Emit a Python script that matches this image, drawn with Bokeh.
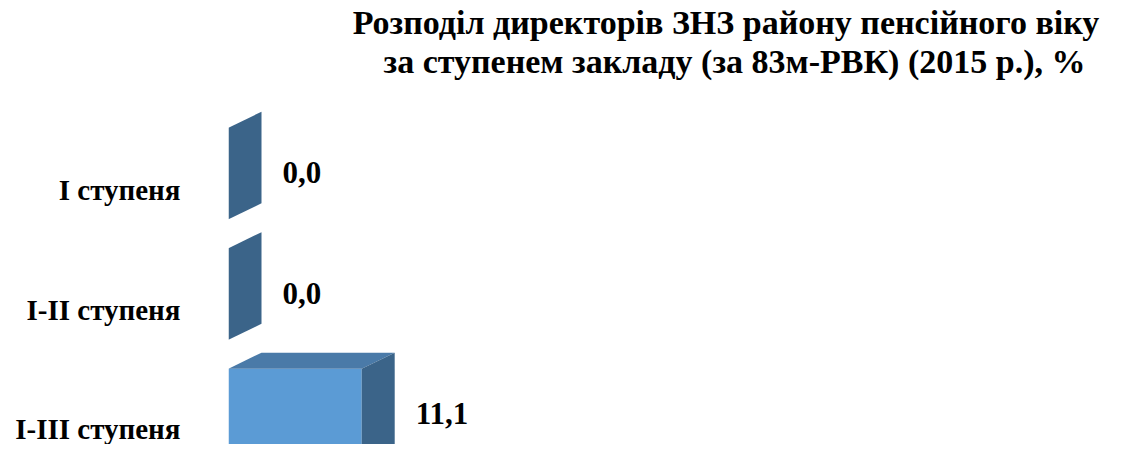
from bokeh.plotting import figure
from bokeh.models import Range1d, FixedTicker, Label, ColumnDataSource
from bokeh.core.properties import value
from bokeh.embed import file_html
from bokeh.resources import INLINE

# ---- data ----
categories = ["I ступеня", "I-II ступеня", "I-III ступеня"]
values = [0.0, 0.0, 11.1]
title_lines = ["Розподіл директорів ЗНЗ  району  пенсійного віку",
               "за ступенем закладу (за 83м-РВК) (2015 р.), %"]

# ---- style ----
FONT = "Liberation Serif"
FRONT = "#5b9bd5"
TOP = "#4a7aa8"
SIDE = "#3b6489"
HALF = 0.38      # half bar thickness (category units)
DX = 2.75        # 3-D depth along x (value units)
DY = 0.133       # 3-D depth along y (category units)

n = len(categories)
ypos = [n - i for i in range(n)]  # top category highest

p = figure(width=1126, height=444, output_backend="svg", toolbar_location=None,
           x_range=Range1d(0, 74.83), y_range=Range1d(0.751, 4.436),
           x_axis_location=None, min_border_left=228, min_border_right=0,
           min_border_top=0, min_border_bottom=0)
p.outline_line_color = None
p.grid.visible = False
p.background_fill_color = "white"
p.border_fill_color = "white"

# faces
front = ColumnDataSource(dict(
    left=[0] * n, right=values,
    bottom=[y - HALF for y in ypos], top=[y + HALF for y in ypos]))
p.quad(left="left", right="right", bottom="bottom", top="top", source=front,
       fill_color=FRONT, line_color=None)

top_xs = [[0, DX, v + DX, v] for v in values]
top_ys = [[y + HALF, y + HALF + DY, y + HALF + DY, y + HALF] for y in ypos]
p.patches(top_xs, top_ys, fill_color=TOP, line_color=None)

side_xs = [[v, v + DX, v + DX, v] for v in values]
side_ys = [[y - HALF, y - HALF + DY, y + HALF + DY, y + HALF] for y in ypos]
p.patches(side_xs, side_ys, fill_color=SIDE, line_color=None)

# value labels
lab = ColumnDataSource(dict(
    x=[v + DX for v in values], y=ypos,
    t=[f"{v:.1f}".replace(".", ",") for v in values]))
p.text(x="x", y="y", text="t", source=lab, x_offset=21, y_offset=-1,
       text_font=value(FONT), text_font_style="bold", text_font_size="31px",
       text_align="left", text_baseline="middle", text_color="black")

# category axis
ax = p.yaxis[0]
ax.ticker = FixedTicker(ticks=[y - DY for y in ypos])
ax.major_label_overrides = {y - DY: c for y, c in zip(ypos, categories)}
ax.axis_line_color = None
ax.major_tick_line_color = None
ax.minor_tick_line_color = None
ax.major_tick_out = 0
ax.major_tick_in = 0
ax.major_label_standoff = 48
ax.major_label_text_font = FONT
ax.major_label_text_font_style = "bold"
ax.major_label_text_font_size = "29px"
ax.major_label_text_color = "black"

# title
for line, ym in zip(title_lines, [444 - 22, 444 - 61]):
    p.add_layout(Label(x=506, y=ym, x_units="screen", y_units="screen", text=line,
                       text_align="center", text_baseline="middle",
                       text_font=FONT, text_font_style="bold",
                       text_font_size="34px", text_color="black"))

open("out.html", "w").write(file_html(p, INLINE))
